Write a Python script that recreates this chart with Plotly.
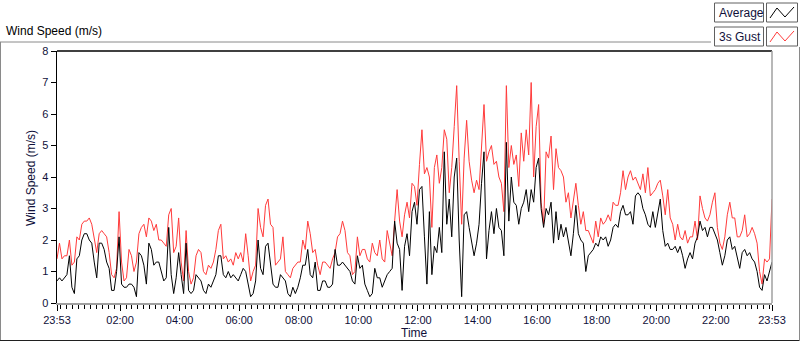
import pandas as pd
import plotly.graph_objects as go

# ---- data (5-minute samples from 23:53 to 23:53 next day) ----
start_time = "2024-01-01 23:53"
step = "5min"

gust = [
    1.4, 1.9, 1.4, 1.5, 1.5, 2.0, 1.2, 1.3, 2.1, 2.0, 2.5, 2.6,
    2.6, 2.7, 2.5, 2.0, 1.6, 2.2, 2.3, 2.2, 2.1, 1.6, 0.9, 0.8,
    1.1, 2.9, 1.3, 0.7, 0.8, 1.7, 1.5, 1.0, 1.3, 2.2, 2.4, 2.5,
    2.1, 2.7, 2.6, 2.3, 2.5, 2.0, 2.0, 1.9, 1.8, 2.8, 3.0, 1.6,
    1.8, 2.7, 1.3, 0.7, 2.3, 1.0, 0.6, 0.8, 1.5, 1.7, 1.6, 1.0,
    0.9, 1.2, 1.1, 1.3, 1.7, 2.3, 2.5, 1.4, 1.5, 1.3, 1.4, 1.2,
    1.6, 1.4, 1.6, 1.3, 2.2, 1.5, 0.7, 1.0, 1.2, 3.0, 2.4, 2.1,
    3.1, 3.3, 2.5, 2.4, 1.2, 1.3, 1.4, 2.1, 1.0, 0.9, 0.8, 1.1,
    1.2, 1.3, 1.3, 2.0, 1.7, 2.6, 2.2, 1.6, 1.7, 1.2, 0.9, 1.3,
    1.3, 1.2, 1.1, 1.4, 1.6, 2.1, 2.2, 2.6, 2.3, 1.6, 1.5, 0.9,
    1.0, 2.1, 1.5, 1.7, 1.7, 1.4, 1.3, 1.9, 1.6, 1.5, 2.0, 1.4,
    1.3, 2.3, 1.9, 1.5, 2.6, 3.6, 2.6, 2.1, 2.8, 3.2, 2.7, 3.8,
    3.7, 3.1, 4.4, 5.5, 4.1, 4.3, 4.0, 2.4, 4.3, 4.7, 3.8, 4.3,
    5.5, 5.2, 3.5, 4.3, 5.6, 6.9, 4.5, 2.5, 4.6, 5.8, 4.5, 3.9,
    3.5, 3.9, 3.6, 5.0, 6.3, 4.5, 4.8, 5.0, 4.4, 4.5, 4.0, 3.8,
    2.9, 6.9, 4.3, 5.0, 4.4, 4.7, 3.7, 5.4, 4.5, 5.5, 4.7, 7.0,
    4.0, 5.6, 6.3, 3.2, 2.5, 4.8, 4.6, 5.3, 3.6, 4.9, 4.3, 4.2,
    4.0, 3.2, 3.5, 2.7, 3.2, 3.8, 3.1, 2.5, 2.9, 2.3, 2.3, 2.1,
    1.9, 2.6, 2.1, 2.7, 2.5, 2.6, 2.8, 2.6, 3.2, 3.1, 3.1, 3.5,
    4.2, 3.6, 4.0, 4.2, 3.9, 4.0, 3.8, 3.6, 4.1, 3.5, 4.3, 3.4,
    3.5, 3.6, 3.8, 3.9, 3.4, 2.8, 3.6, 2.7, 2.5, 2.0, 2.5, 2.1,
    2.0, 2.3, 1.9, 2.1, 2.1, 2.6, 2.0, 3.4, 3.0, 2.7, 2.6, 2.8,
    3.2, 3.5, 2.4, 1.9, 1.7, 2.1, 2.8, 3.2, 2.7, 2.7, 2.1, 2.1,
    2.3, 2.8, 2.1, 2.2, 2.4, 2.2, 1.9, 1.0, 0.6, 1.4, 1.3, 1.4,
    3.3,
]

average = [
    0.7, 0.8, 0.7, 0.8, 0.9, 1.5, 0.5, 0.3, 1.4, 1.5, 2.0, 2.2,
    2.2, 2.0, 1.9, 1.3, 0.8, 1.9, 1.9, 1.7, 1.3, 1.1, 0.4, 0.4,
    1.0, 2.1, 0.6, 0.5, 0.5, 0.6, 0.6, 0.5, 0.2, 1.6, 1.5, 1.2,
    0.6, 1.9, 1.7, 1.2, 1.3, 1.3, 1.0, 0.7, 0.8, 2.4, 0.9, 0.3,
    0.8, 1.6, 0.9, 0.3, 1.9, 0.4, 0.3, 0.4, 0.9, 0.8, 0.7, 0.4,
    0.3, 0.6, 0.5, 0.7, 0.9, 1.5, 1.5, 0.9, 0.8, 1.0, 0.8, 0.9,
    0.8, 0.7, 0.9, 1.1, 1.0, 0.6, 0.2, 0.3, 0.7, 2.0, 1.1, 0.9,
    1.8, 1.9, 1.3, 0.6, 0.5, 0.5, 0.9, 0.8, 0.7, 0.3, 0.2, 0.5,
    0.3, 0.5, 0.8, 1.2, 1.2, 1.7, 0.9, 0.8, 1.3, 0.4, 0.4, 0.7,
    0.7, 0.5, 0.5, 0.6, 1.7, 1.2, 1.2, 1.3, 1.2, 1.1, 1.0, 0.7,
    0.6, 1.5, 1.1, 1.2, 0.6, 0.4, 0.2, 0.3, 1.1, 0.8, 0.8, 0.5,
    0.7, 0.9, 1.0, 1.1, 2.6, 1.9, 1.7, 0.4, 1.8, 2.2, 1.5, 2.9,
    3.2, 2.5, 3.6, 3.7, 2.1, 0.6, 2.9, 0.9, 1.8, 1.6, 2.4, 1.6,
    4.8, 2.5, 3.3, 2.1, 4.0, 4.6, 2.0, 0.2, 2.8, 2.9, 2.4, 1.9,
    1.5, 1.9, 2.5, 3.8, 4.8, 1.4, 2.3, 2.9, 2.2, 3.0, 2.4, 2.3,
    1.5, 5.1, 2.6, 4.0, 3.2, 3.1, 2.5, 3.0, 3.2, 3.6, 2.9, 3.6,
    3.2, 4.3, 4.6, 3.0, 2.4, 3.0, 2.8, 3.2, 1.9, 2.9, 2.0, 2.5,
    2.1, 2.4, 1.9, 1.5, 2.2, 3.1, 2.2, 2.0, 1.9, 1.0, 1.5, 1.6,
    1.7, 1.9, 1.8, 2.1, 2.0, 2.1, 1.8, 2.0, 2.4, 2.5, 2.4, 2.9,
    3.1, 2.8, 2.8, 2.9, 2.5, 3.4, 3.5, 3.4, 3.0, 2.8, 2.5, 2.4,
    2.9, 2.4, 2.9, 3.3, 2.3, 1.8, 1.9, 1.7, 1.7, 1.8, 1.6, 1.8,
    1.5, 1.1, 1.4, 1.6, 1.4, 1.9, 2.1, 2.6, 2.3, 2.4, 2.1, 2.4,
    2.4, 2.2, 2.0, 1.6, 1.2, 1.5, 2.0, 2.1, 1.7, 1.8, 1.4, 1.1,
    1.6, 1.7, 1.5, 1.6, 1.4, 1.3, 1.0, 0.5, 0.4, 0.9, 0.7, 1.0,
    1.3,
]

tick_times = ["2024-01-01 23:53", "2024-01-02 02:00", "2024-01-02 04:00",
              "2024-01-02 06:00", "2024-01-02 08:00", "2024-01-02 10:00",
              "2024-01-02 12:00", "2024-01-02 14:00", "2024-01-02 16:00",
              "2024-01-02 18:00", "2024-01-02 20:00", "2024-01-02 22:00",
              "2024-01-02 23:53"]
tick_labels = ["23:53", "02:00", "04:00", "06:00", "08:00", "10:00", "12:00",
               "14:00", "16:00", "18:00", "20:00", "22:00", "23:53"]
y_ticks = [0, 1, 2, 3, 4, 5, 6, 7, 8]

series_names = ["Average", "3s Gust"]
series_colors = ["#000000", "#ff3b3b"]

times = pd.date_range(start_time, periods=len(gust), freq=step)

# ---- geometry helpers (pixel -> paper) ----
W, H = 800, 342
L, R, T, B = 57, 28, 51, 39
PW, PH = W - L - R, H - T - B


def px(x):
    return (x - L) / PW


def py(y):
    return (H - B - y) / PH


FONT = "Liberation Sans, Arial, sans-serif"
TXT = "#10103a"

fig = go.Figure()
fig.add_trace(go.Scatter(x=times, y=gust, mode="lines", name=series_names[1],
                         line=dict(color=series_colors[1], width=1)))
fig.add_trace(go.Scatter(x=times, y=average, mode="lines", name=series_names[0],
                         line=dict(color=series_colors[0], width=1)))

shapes = []
# plot frame
shapes.append(dict(type="line", xref="paper", yref="paper", x0=0, x1=1, y0=1, y1=1,
                   line=dict(color="#000000", width=1.5)))
shapes.append(dict(type="line", xref="paper", yref="paper", x0=1, x1=1, y0=0, y1=1,
                   line=dict(color="#a0a0a0", width=1.5)))
# outer panel frame
shapes.append(dict(type="line", xref="paper", yref="paper", x0=px(0), x1=px(711),
                   y0=py(42), y1=py(42), line=dict(color="#8a8a8a", width=1)))
shapes.append(dict(type="line", xref="paper", yref="paper", x0=px(0.5), x1=px(0.5),
                   y0=py(42), y1=py(341), line=dict(color="#8a8a8a", width=1)))
shapes.append(dict(type="line", xref="paper", yref="paper", x0=px(0), x1=px(800),
                   y0=py(340.5), y1=py(340.5), line=dict(color="#202020", width=1)))
shapes.append(dict(type="line", xref="paper", yref="paper", x0=px(799.5), x1=px(799.5),
                   y0=py(47), y1=py(341), line=dict(color="#8a8a8a", width=1)))

annotations = []
# legend boxes
for i, (name, col) in enumerate(zip(series_names, series_colors)):
    top = 3 + 24 * i
    bot = top + 19
    shapes.append(dict(type="rect", xref="paper", yref="paper",
                       x0=px(714.5), x1=px(763.5), y0=py(bot), y1=py(top),
                       line=dict(color="#606060", width=1), fillcolor="white"))
    shapes.append(dict(type="rect", xref="paper", yref="paper",
                       x0=px(766.5), x1=px(797.5), y0=py(bot), y1=py(top),
                       line=dict(color="#606060", width=1), fillcolor="white"))
    pts = [(770, top + 15), (777, top + 5), (785, top + 14), (794, top + 4)]
    path = "M " + " L ".join(f"{px(a):.5f},{py(b):.5f}" for a, b in pts)
    shapes.append(dict(type="path", xref="paper", yref="paper", path=path,
                       line=dict(color=col, width=1)))
    annotations.append(dict(text=name, xref="paper", yref="paper", x=px(717),
                            y=py(top + 10), xanchor="left", yanchor="middle",
                            showarrow=False, font=dict(family=FONT, size=12, color=TXT)))

# titles
annotations.append(dict(text="Wind Speed (m/s)", xref="paper", yref="paper",
                        x=px(4), y=py(31), xanchor="left", yanchor="middle",
                        showarrow=False, font=dict(family=FONT, size=12, color="#000000")))
annotations.append(dict(text="Wind Speed (m/s)", xref="paper", yref="paper",
                        x=px(31), y=py(178), xanchor="center", yanchor="middle",
                        textangle=-90, showarrow=False,
                        font=dict(family=FONT, size=12, color=TXT)))
annotations.append(dict(text="Time", xref="paper", yref="paper",
                        x=px(414), y=py(333), xanchor="center", yanchor="middle",
                        showarrow=False, font=dict(family=FONT, size=12, color=TXT)))

fig.update_layout(
    width=W, height=H,
    margin=dict(l=L, r=R, t=T, b=B, pad=0),
    paper_bgcolor="white", plot_bgcolor="white",
    showlegend=False,
    shapes=shapes, annotations=annotations,
    xaxis=dict(
        type="date", range=[tick_times[0], tick_times[-1]],
        showgrid=False, zeroline=False,
        showline=True, linecolor="#a0a0a0", linewidth=2,
        ticks="outside", ticklen=6, tickcolor="#000000", tickwidth=1,
        tickmode="array", tickvals=tick_times, ticktext=tick_labels,
        tickfont=dict(family=FONT, size=11, color=TXT),
        minor=dict(ticks="outside", ticklen=4, tickcolor="#000000", tickwidth=1,
                   dtick=12 * 60 * 1000, tick0="2024-01-02 00:00", showgrid=False),
    ),
    yaxis=dict(
        range=[0, 8], showgrid=False, zeroline=False,
        showline=True, linecolor="#000000", linewidth=1.5,
        ticks="outside", ticklen=5, tickcolor="#000000", tickwidth=1,
        tickmode="array", tickvals=y_ticks,
        tickfont=dict(family=FONT, size=11, color=TXT),
    ),
)

fig.write_html(
    "out.html",
    config={"displayModeBar": False, "staticPlot": True},
    post_script="document.body.style.margin='0';document.body.style.overflow='hidden';",
)
